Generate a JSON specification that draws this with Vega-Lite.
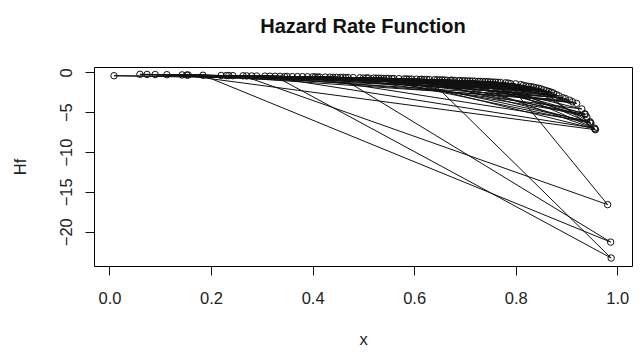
{
  "$schema": "https://vega.github.io/schema/vega-lite/v6.json",
  "width": 538,
  "height": 199,
  "autosize": {"type": "none"},
  "padding": {"left": 94, "top": 67, "right": 10, "bottom": 89},
  "background": "white",
  "config": {
    "view": {"stroke": "black", "strokeWidth": 1},
    "font": "Liberation Sans"
  },
  "title": {
    "text": "Hazard Rate Function",
    "font": "Liberation Sans",
    "fontSize": 20,
    "fontWeight": "bold",
    "color": "#111",
    "anchor": "middle",
    "frame": "group",
    "baseline": "alphabetic",
    "offset": 14
  },
  "data": {
    "values": [
      {"i":1,"x":0.506,"Hf":-0.71},{"i":2,"x":0.72,"Hf":-1.12},{"i":3,"x":0.38,"Hf":-0.55},{"i":4,"x":0.946,"Hf":-6.2},
      {"i":5,"x":0.55,"Hf":-0.77},{"i":6,"x":0.83,"Hf":-1.8},{"i":7,"x":0.263,"Hf":-0.44},{"i":8,"x":0.981,"Hf":-16.6},
      {"i":9,"x":0.785,"Hf":-1.35},{"i":10,"x":0.64,"Hf":-0.93},{"i":11,"x":0.152,"Hf":-0.34},{"i":12,"x":0.46,"Hf":-0.64},
      {"i":13,"x":0.893,"Hf":-3.2},{"i":14,"x":0.235,"Hf":-0.41},{"i":15,"x":0.672,"Hf":-1.0},{"i":16,"x":0.936,"Hf":-5.2},
      {"i":17,"x":0.71,"Hf":-1.09},{"i":18,"x":0.414,"Hf":-0.59},{"i":19,"x":0.06,"Hf":-0.25},{"i":20,"x":0.86,"Hf":-2.3},
      {"i":21,"x":0.595,"Hf":-0.85},{"i":22,"x":0.326,"Hf":-0.5},{"i":23,"x":0.988,"Hf":-23.3},{"i":24,"x":0.63,"Hf":-0.91},
      {"i":25,"x":0.77,"Hf":-1.28},{"i":26,"x":0.009,"Hf":-0.43},{"i":27,"x":0.535,"Hf":-0.75},{"i":28,"x":0.88,"Hf":-2.8},
      {"i":29,"x":0.306,"Hf":-0.48},{"i":30,"x":0.955,"Hf":-7.0},{"i":31,"x":0.745,"Hf":-1.19},{"i":32,"x":0.493,"Hf":-0.69},
      {"i":33,"x":0.22,"Hf":-0.4},{"i":34,"x":0.605,"Hf":-0.86},{"i":35,"x":0.82,"Hf":-1.7},{"i":36,"x":0.39,"Hf":-0.56},
      {"i":37,"x":0.68,"Hf":-1.02},{"i":38,"x":0.143,"Hf":-0.33},{"i":39,"x":0.957,"Hf":-7.2},{"i":40,"x":0.845,"Hf":-2.0},
      {"i":41,"x":0.447,"Hf":-0.63},{"i":42,"x":0.56,"Hf":-0.79},{"i":43,"x":0.27,"Hf":-0.45},{"i":44,"x":0.74,"Hf":-1.17},
      {"i":45,"x":0.906,"Hf":-3.5},{"i":46,"x":0.184,"Hf":-0.37},{"i":47,"x":0.987,"Hf":-21.3},{"i":48,"x":0.455,"Hf":-0.64},
      {"i":49,"x":0.615,"Hf":-0.88},{"i":50,"x":0.81,"Hf":-1.55},{"i":51,"x":0.35,"Hf":-0.52},{"i":52,"x":0.074,"Hf":-0.27},
      {"i":53,"x":0.69,"Hf":-1.04},{"i":54,"x":0.52,"Hf":-0.73},{"i":55,"x":0.948,"Hf":-6.4},{"i":56,"x":0.76,"Hf":-1.24},
      {"i":57,"x":0.4,"Hf":-0.57},{"i":58,"x":0.865,"Hf":-2.4},{"i":59,"x":0.23,"Hf":-0.41},{"i":60,"x":0.655,"Hf":-0.96},
      {"i":61,"x":0.48,"Hf":-0.67},{"i":62,"x":0.92,"Hf":-3.9},{"i":63,"x":0.57,"Hf":-0.8},{"i":64,"x":0.316,"Hf":-0.49},
      {"i":65,"x":0.735,"Hf":-1.16},{"i":66,"x":0.113,"Hf":-0.3},{"i":67,"x":0.585,"Hf":-0.83},{"i":68,"x":0.87,"Hf":-2.5},
      {"i":69,"x":0.425,"Hf":-0.6},{"i":70,"x":0.7,"Hf":-1.07},{"i":71,"x":0.94,"Hf":-5.6},{"i":72,"x":0.625,"Hf":-0.9},
      {"i":73,"x":0.243,"Hf":-0.42},{"i":74,"x":0.835,"Hf":-1.87},{"i":75,"x":0.51,"Hf":-0.71},{"i":76,"x":0.155,"Hf":-0.34},
      {"i":77,"x":0.765,"Hf":-1.26},{"i":78,"x":0.37,"Hf":-0.54},{"i":79,"x":0.885,"Hf":-2.95},{"i":80,"x":0.66,"Hf":-0.97},
      {"i":81,"x":0.09,"Hf":-0.28},{"i":82,"x":0.545,"Hf":-0.76},{"i":83,"x":0.78,"Hf":-1.32},{"i":84,"x":0.434,"Hf":-0.61},
      {"i":85,"x":0.93,"Hf":-4.6},{"i":86,"x":0.695,"Hf":-1.05},{"i":87,"x":0.336,"Hf":-0.51},{"i":88,"x":0.85,"Hf":-2.08},
      {"i":89,"x":0.47,"Hf":-0.66},{"i":90,"x":0.715,"Hf":-1.1},{"i":91,"x":0.53,"Hf":-0.74},{"i":92,"x":0.8,"Hf":-1.45},
      {"i":93,"x":0.405,"Hf":-0.58},{"i":94,"x":0.65,"Hf":-0.95},{"i":95,"x":0.874,"Hf":-2.6},{"i":96,"x":0.73,"Hf":-1.14},
      {"i":97,"x":0.675,"Hf":-1.0},{"i":98,"x":0.75,"Hf":-1.2},
      {"i":99,"x":0.612,"Hf":-0.9},{"i":100,"x":0.947,"Hf":-6.3},{"i":101,"x":0.825,"Hf":-1.78},{"i":102,"x":0.29,"Hf":-0.47},
      {"i":103,"x":0.556,"Hf":-0.8},{"i":104,"x":0.956,"Hf":-7.1},{"i":105,"x":0.688,"Hf":-1.06},{"i":106,"x":0.41,"Hf":-0.6},
      {"i":107,"x":0.79,"Hf":-1.42},{"i":108,"x":0.5,"Hf":-0.72},{"i":109,"x":0.937,"Hf":-5.3},{"i":110,"x":0.58,"Hf":-0.84},
      {"i":111,"x":0.726,"Hf":-1.15},{"i":112,"x":0.345,"Hf":-0.53},{"i":113,"x":0.855,"Hf":-2.2},{"i":114,"x":0.62,"Hf":-0.9},
      {"i":115,"x":0.44,"Hf":-0.63},{"i":116,"x":0.705,"Hf":-1.1},{"i":117,"x":0.898,"Hf":-3.3},{"i":118,"x":0.525,"Hf":-0.75},
      {"i":119,"x":0.755,"Hf":-1.24},{"i":120,"x":0.36,"Hf":-0.54},{"i":121,"x":0.645,"Hf":-0.95},{"i":122,"x":0.815,"Hf":-1.65},
      {"i":123,"x":0.465,"Hf":-0.67},{"i":124,"x":0.59,"Hf":-0.86},{"i":125,"x":0.665,"Hf":-1.0},{"i":126,"x":0.54,"Hf":-0.78},
      {"i":127,"x":0.84,"Hf":-1.95},{"i":128,"x":0.28,"Hf":-0.46},{"i":129,"x":0.912,"Hf":-3.7}
    ]
  },
  "encoding": {
    "x": {
      "field": "x", "type": "quantitative",
      "scale": {"domain": [-0.0305, 1.029], "nice": false, "zero": false},
      "axis": {
        "values": [0, 0.2, 0.4, 0.6, 0.8, 1.0], "format": ".1f",
        "grid": false, "domain": false,
        "tickSize": 9, "tickColor": "#111", "tickWidth": 1,
        "labelFont": "Liberation Sans", "labelFontSize": 16.5, "labelColor": "#222",
        "labelPadding": 15, "labelFlush": false,
        "title": "x", "titleFont": "Liberation Sans", "titleFontSize": 16.5, "titleFontWeight": "normal", "titleColor": "#222",
        "titlePadding": 25
      }
    },
    "y": {
      "field": "Hf", "type": "quantitative",
      "scale": {"domain": [-24.3, 0.665], "nice": false, "zero": false},
      "axis": {
        "values": [0, -5, -10, -15, -20],
        "grid": false, "domain": false,
        "tickSize": 9, "tickColor": "#111", "tickWidth": 1,
        "labelFont": "Liberation Sans", "labelFontSize": 16.5, "labelColor": "#222",
        "labelAngle": 270, "labelAlign": "center", "labelBaseline": "alphabetic",
        "labelPadding": 14, "labelFlush": false,
        "title": "Hf", "titleFont": "Liberation Sans", "titleFontSize": 16.5, "titleFontWeight": "normal", "titleColor": "#222",
        "titlePadding": 30
      }
    }
  },
  "layer": [
    {
      "mark": {"type": "line", "color": "#111", "strokeWidth": 1, "clip": true},
      "encoding": {"order": {"field": "i", "type": "quantitative"}}
    },
    {
      "mark": {"type": "point", "shape": "circle", "filled": false, "stroke": "#111", "strokeWidth": 1, "size": 42, "opacity": 1}
    }
  ]
}
